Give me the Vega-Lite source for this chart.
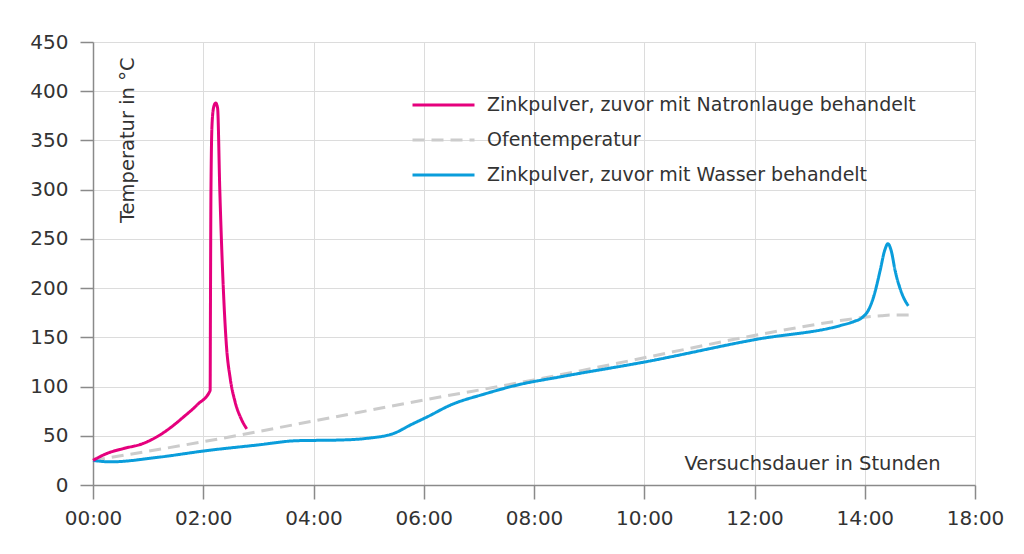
{
  "$schema": "https://vega.github.io/schema/vega-lite/v6.json",
  "width": 882,
  "height": 443,
  "autosize": {"type": "none"},
  "padding": {"left": 93, "top": 42, "right": 49, "bottom": 69},
  "background": "white",
  "config": {"view": {"stroke": null}, "font": "DejaVu Sans"},
  "data": {"values": [
    {"serie": "Ofentemperatur", "h": 0, "t": 25},
    {"serie": "Ofentemperatur", "h": 2, "t": 44},
    {"serie": "Ofentemperatur", "h": 4, "t": 65},
    {"serie": "Ofentemperatur", "h": 6, "t": 86.3},
    {"serie": "Ofentemperatur", "h": 8, "t": 106.7},
    {"serie": "Ofentemperatur", "h": 10.04, "t": 129.7},
    {"serie": "Ofentemperatur", "h": 12.04, "t": 152.4},
    {"serie": "Ofentemperatur", "h": 13.56, "t": 167},
    {"serie": "Ofentemperatur", "h": 14.0, "t": 170.5},
    {"serie": "Ofentemperatur", "h": 14.3, "t": 172},
    {"serie": "Ofentemperatur", "h": 14.5, "t": 172.7},
    {"serie": "Ofentemperatur", "h": 14.8, "t": 172.7},

    {"serie": "Zinkpulver, zuvor mit Wasser behandelt", "h": 0, "t": 25},
    {"serie": "Zinkpulver, zuvor mit Wasser behandelt", "h": 0.31, "t": 23.5},
    {"serie": "Zinkpulver, zuvor mit Wasser behandelt", "h": 1.16, "t": 28},
    {"serie": "Zinkpulver, zuvor mit Wasser behandelt", "h": 2.07, "t": 35},
    {"serie": "Zinkpulver, zuvor mit Wasser behandelt", "h": 2.98, "t": 40.6},
    {"serie": "Zinkpulver, zuvor mit Wasser behandelt", "h": 3.7, "t": 45},
    {"serie": "Zinkpulver, zuvor mit Wasser behandelt", "h": 4.49, "t": 45.7},
    {"serie": "Zinkpulver, zuvor mit Wasser behandelt", "h": 4.97, "t": 47.4},
    {"serie": "Zinkpulver, zuvor mit Wasser behandelt", "h": 5.46, "t": 52.5},
    {"serie": "Zinkpulver, zuvor mit Wasser behandelt", "h": 5.76, "t": 61},
    {"serie": "Zinkpulver, zuvor mit Wasser behandelt", "h": 6.07, "t": 69.4},
    {"serie": "Zinkpulver, zuvor mit Wasser behandelt", "h": 6.49, "t": 81.3},
    {"serie": "Zinkpulver, zuvor mit Wasser behandelt", "h": 7.1, "t": 92.4},
    {"serie": "Zinkpulver, zuvor mit Wasser behandelt", "h": 7.7, "t": 101.6},
    {"serie": "Zinkpulver, zuvor mit Wasser behandelt", "h": 8.49, "t": 110},
    {"serie": "Zinkpulver, zuvor mit Wasser behandelt", "h": 10.04, "t": 125.3},
    {"serie": "Zinkpulver, zuvor mit Wasser behandelt", "h": 12.04, "t": 148},
    {"serie": "Zinkpulver, zuvor mit Wasser behandelt", "h": 13.56, "t": 162},
    {"serie": "Zinkpulver, zuvor mit Wasser behandelt", "h": 13.8, "t": 166},
    {"serie": "Zinkpulver, zuvor mit Wasser behandelt", "h": 13.95, "t": 170},
    {"serie": "Zinkpulver, zuvor mit Wasser behandelt", "h": 14.07, "t": 178},
    {"serie": "Zinkpulver, zuvor mit Wasser behandelt", "h": 14.16, "t": 191},
    {"serie": "Zinkpulver, zuvor mit Wasser behandelt", "h": 14.28, "t": 218},
    {"serie": "Zinkpulver, zuvor mit Wasser behandelt", "h": 14.36, "t": 238},
    {"serie": "Zinkpulver, zuvor mit Wasser behandelt", "h": 14.42, "t": 245},
    {"serie": "Zinkpulver, zuvor mit Wasser behandelt", "h": 14.48, "t": 238},
    {"serie": "Zinkpulver, zuvor mit Wasser behandelt", "h": 14.55, "t": 218},
    {"serie": "Zinkpulver, zuvor mit Wasser behandelt", "h": 14.67, "t": 195},
    {"serie": "Zinkpulver, zuvor mit Wasser behandelt", "h": 14.79, "t": 182},

    {"serie": "Zinkpulver, zuvor mit Natronlauge behandelt", "h": 0, "t": 25},
    {"serie": "Zinkpulver, zuvor mit Natronlauge behandelt", "h": 0.25, "t": 32},
    {"serie": "Zinkpulver, zuvor mit Natronlauge behandelt", "h": 0.55, "t": 37},
    {"serie": "Zinkpulver, zuvor mit Natronlauge behandelt", "h": 0.9, "t": 42},
    {"serie": "Zinkpulver, zuvor mit Natronlauge behandelt", "h": 1.16, "t": 49},
    {"serie": "Zinkpulver, zuvor mit Natronlauge behandelt", "h": 1.4, "t": 58},
    {"serie": "Zinkpulver, zuvor mit Natronlauge behandelt", "h": 1.64, "t": 69},
    {"serie": "Zinkpulver, zuvor mit Natronlauge behandelt", "h": 1.9, "t": 82},
    {"serie": "Zinkpulver, zuvor mit Natronlauge behandelt", "h": 2.125, "t": 96},
    {"serie": "Zinkpulver, zuvor mit Natronlauge behandelt", "h": 2.13, "t": 170},
    {"serie": "Zinkpulver, zuvor mit Natronlauge behandelt", "h": 2.14, "t": 300},
    {"serie": "Zinkpulver, zuvor mit Natronlauge behandelt", "h": 2.16, "t": 367},
    {"serie": "Zinkpulver, zuvor mit Natronlauge behandelt", "h": 2.19, "t": 384},
    {"serie": "Zinkpulver, zuvor mit Natronlauge behandelt", "h": 2.225, "t": 388},
    {"serie": "Zinkpulver, zuvor mit Natronlauge behandelt", "h": 2.26, "t": 383},
    {"serie": "Zinkpulver, zuvor mit Natronlauge behandelt", "h": 2.3, "t": 300},
    {"serie": "Zinkpulver, zuvor mit Natronlauge behandelt", "h": 2.36, "t": 205},
    {"serie": "Zinkpulver, zuvor mit Natronlauge behandelt", "h": 2.42, "t": 142},
    {"serie": "Zinkpulver, zuvor mit Natronlauge behandelt", "h": 2.49, "t": 108},
    {"serie": "Zinkpulver, zuvor mit Natronlauge behandelt", "h": 2.58, "t": 84},
    {"serie": "Zinkpulver, zuvor mit Natronlauge behandelt", "h": 2.69, "t": 67},
    {"serie": "Zinkpulver, zuvor mit Natronlauge behandelt", "h": 2.79, "t": 57}
  ]},
  "encoding": {
    "x": {
      "field": "h", "type": "quantitative",
      "scale": {"domain": [0, 16], "nice": false, "zero": false},
      "axis": {
        "values": [0, 2, 4, 6, 8, 10, 12, 14, 16],
        "labelExpr": "datum.value == 16 ? '18:00' : (datum.value < 10 ? '0' : '') + datum.value + ':00'",
        "grid": true, "gridColor": "#dcdcdc", "gridWidth": 1,
        "domainColor": "#8a8a8a", "domainWidth": 1.5,
        "tickColor": "#8a8a8a", "tickWidth": 1.5, "tickSize": 14,
        "labelFontSize": 20, "labelColor": "#333333", "labelPadding": 9,
        "labelFlush": false,
        "title": "Versuchsdauer in Stunden",
        "titleX": 847, "titleY": -22, "titleAlign": "right", "titleBaseline": "middle",
        "titleAngle": 0, "titleFontSize": 19.5, "titleFontWeight": "normal", "titleColor": "#333333"
      }
    },
    "y": {
      "field": "t", "type": "quantitative",
      "scale": {"domain": [0, 450], "nice": false},
      "axis": {
        "values": [0, 50, 100, 150, 200, 250, 300, 350, 400, 450],
        "grid": true, "gridColor": "#dcdcdc", "gridWidth": 1,
        "domainColor": "#8a8a8a", "domainWidth": 1.5,
        "tickColor": "#8a8a8a", "tickWidth": 1.5, "tickSize": 13,
        "labelFontSize": 20, "labelColor": "#333333", "labelPadding": 12,
        "labelFlush": false,
        "title": "Temperatur in °C",
        "titleX": 34, "titleY": 15, "titleAlign": "right", "titleBaseline": "middle",
        "titleAngle": -90, "titleFontSize": 19.5, "titleFontWeight": "normal", "titleColor": "#333333"
      }
    },
    "color": {
      "field": "serie", "type": "nominal",
      "scale": {
        "domain": ["Zinkpulver, zuvor mit Natronlauge behandelt", "Ofentemperatur", "Zinkpulver, zuvor mit Wasser behandelt"],
        "range": ["#e5007d", "#cccccc", "#0a9ddb"]
      },
      "legend": {
        "orient": "none", "legendX": 318, "legendY": 53, "title": null,
        "labelFontSize": 19, "labelColor": "#333333", "labelOffset": 11, "labelLimit": 0,
        "symbolType": "stroke", "symbolSize": 3844, "symbolStrokeWidth": 3,
        "clipHeight": 20,
        "padding": 0, "rowPadding": 15
      }
    },
    "strokeDash": {
      "field": "serie", "type": "nominal",
      "scale": {
        "domain": ["Zinkpulver, zuvor mit Natronlauge behandelt", "Ofentemperatur", "Zinkpulver, zuvor mit Wasser behandelt"],
        "range": [[1, 0], [12, 7], [1, 0]]
      },
      "legend": null
    }
  },
  "layer": [
    {"transform": [{"filter": "datum.serie == 'Ofentemperatur'"}], "mark": {"type": "line", "interpolate": "monotone", "strokeWidth": 3}},
    {"transform": [{"filter": "datum.serie == 'Zinkpulver, zuvor mit Wasser behandelt'"}], "mark": {"type": "line", "interpolate": "monotone", "strokeWidth": 3}},
    {"transform": [{"filter": "datum.serie == 'Zinkpulver, zuvor mit Natronlauge behandelt'"}], "mark": {"type": "line", "interpolate": "monotone", "strokeWidth": 3}}
  ]
}
